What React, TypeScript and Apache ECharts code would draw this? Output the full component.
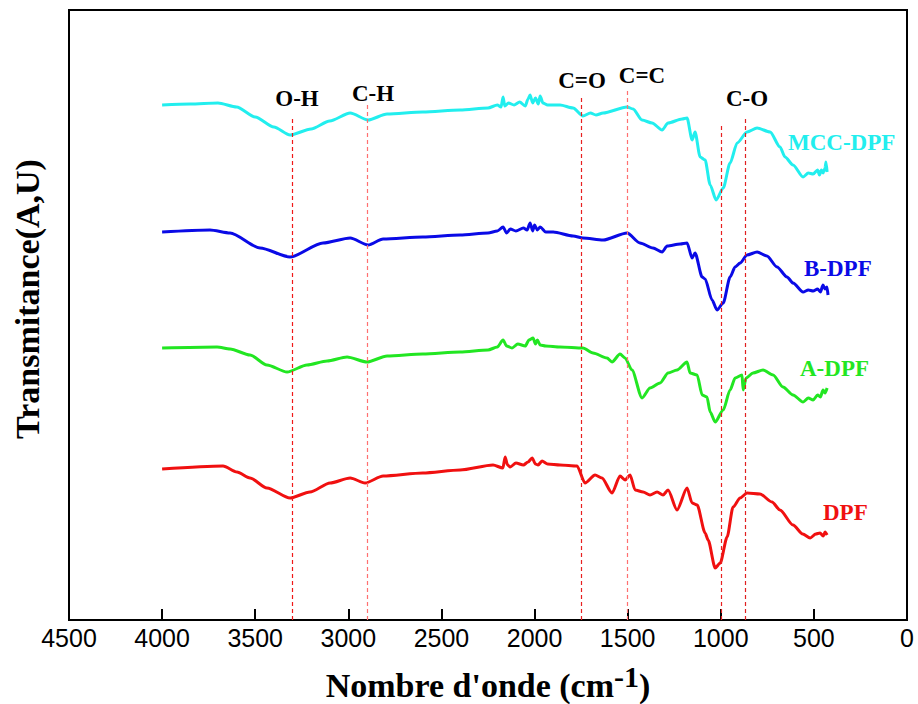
import React, { useEffect, useRef } from "react";
import * as echarts from "echarts";

// wavenumber (cm-1) → transmittance (arbitrary units, offset per sample)
const mccDpf: [number, number][] = [
  [4000, 515], [3850, 516], [3700, 517], [3600, 513], [3500, 503], [3400, 493], [3313, 485],
  [3200, 491], [3100, 499], [2990, 507], [2894, 500], [2792, 506], [2600, 508], [2400, 510],
  [2250, 512], [2200, 515], [2180, 513], [2169, 523], [2160, 514], [2140, 517], [2110, 515],
  [2080, 518], [2050, 514], [2035, 521], [2024, 525], [2010, 517], [1995, 522], [1980, 516],
  [1970, 524], [1955, 517], [1930, 515], [1863, 515], [1793, 512], [1740, 504], [1700, 507],
  [1670, 505], [1632, 507], [1503, 513], [1471, 511], [1423, 500], [1369, 497], [1315, 490],
  [1283, 497], [1208, 501], [1181, 502], [1154, 480], [1138, 488], [1111, 463], [1084, 460],
  [1057, 435], [1025, 420], [987, 432], [950, 457], [912, 477], [859, 488], [805, 492],
  [735, 488], [682, 473], [655, 463], [612, 455], [558, 443], [530, 447], [504, 446],
  [480, 450], [470, 445], [460, 450], [451, 447], [440, 452], [435, 458], [429, 448],
];

const bDpf: [number, number][] = [
  [4000, 388], [3743, 390], [3635, 387], [3474, 372], [3313, 363], [3136, 377], [2990, 382],
  [2894, 375], [2813, 381], [2600, 383], [2400, 385], [2250, 387], [2200, 389], [2169, 393],
  [2150, 387], [2130, 391], [2100, 389], [2060, 392], [2040, 390], [2024, 397], [2010, 389],
  [2000, 395], [1985, 390], [1970, 393], [1940, 388], [1900, 388], [1793, 384], [1740, 382],
  [1632, 380], [1503, 387], [1434, 377], [1364, 372], [1315, 368], [1288, 374], [1218, 376],
  [1181, 377], [1154, 362], [1138, 367], [1100, 343], [1084, 341], [1047, 320], [1020, 310],
  [987, 317], [950, 343], [923, 353], [896, 357], [859, 365], [805, 368], [752, 364],
  [698, 353], [644, 343], [612, 337], [558, 328], [530, 330], [504, 329], [480, 331],
  [465, 328], [451, 335], [440, 331], [430, 333], [424, 325],
];

const aDpf: [number, number][] = [
  [4000, 272], [3705, 273], [3635, 271], [3528, 265], [3437, 255], [3329, 248], [3222, 255],
  [3114, 259], [3007, 263], [2900, 258], [2792, 264], [2600, 266], [2400, 268], [2250, 270],
  [2200, 273], [2169, 280], [2150, 274], [2121, 272], [2090, 276], [2050, 274], [2030, 280],
  [2008, 282], [1995, 276], [1985, 280], [1970, 275], [1940, 274], [1863, 273], [1740, 272],
  [1686, 267], [1611, 262], [1584, 258], [1541, 266], [1514, 262], [1477, 250], [1423, 222],
  [1380, 232], [1326, 237], [1283, 247], [1235, 250], [1181, 258], [1165, 247], [1127, 245],
  [1100, 225], [1074, 223], [1057, 208], [1030, 198], [987, 210], [950, 230], [923, 242],
  [886, 245], [880, 230], [864, 242], [827, 247], [773, 250], [719, 245], [666, 233],
  [612, 225], [558, 218], [530, 222], [504, 220], [480, 225], [465, 223], [451, 230],
  [440, 227], [429, 232],
];

const dpf: [number, number][] = [
  [4000, 151], [3673, 154], [3598, 148], [3528, 142], [3437, 132], [3313, 122], [3206, 128],
  [3098, 137], [2990, 142], [2910, 137], [2813, 144], [2600, 147], [2400, 150], [2223, 155],
  [2170, 152], [2158, 163], [2145, 155], [2131, 153], [2100, 157], [2060, 155], [2035, 158],
  [2013, 162], [1995, 156], [1981, 155], [1960, 159], [1930, 156], [1863, 155], [1772, 154],
  [1729, 137], [1675, 145], [1638, 142], [1584, 127], [1541, 144], [1514, 140], [1487, 145],
  [1460, 130], [1417, 128], [1380, 125], [1342, 128], [1310, 125], [1283, 130], [1235, 110],
  [1181, 132], [1154, 117], [1127, 115], [1084, 87], [1068, 80], [1030, 52], [1003, 57],
  [966, 83], [934, 113], [896, 122], [859, 127], [789, 126], [725, 118], [682, 110],
  [612, 95], [560, 86], [520, 82], [490, 86], [467, 87], [450, 84], [440, 88], [429, 85],
];

const seriesNames = ["MCC-DPF", "B-DPF", "A-DPF", "DPF"];
const seriesData = [mccDpf, bDpf, aDpf, dpf];
const seriesColors = ["#22eeee", "#0a0ae6", "#22e622", "#f01010"];

// band markers: wavenumber, top of dashed line (a.u.)
const bandWave = [3300, 2900, 1750, 1500, 1000, 870];
const bandTop = [503, 518, 525, 530, 494, 501];
const bandColors = ["#f01818", "#ff7070", "#e82020", "#ff7070", "#e82020", "#e02020"];
const bandLabels = ["O-H", "C-H", "C=O", "C=C", "C-O"];

const xTicks = [0, 500, 1000, 1500, 2000, 2500, 3000, 3500, 4000, 4500];
const yTitle = "Transmitance(A,U)";

export default function App() {
  const ref = useRef<HTMLDivElement>(null);
  useEffect(() => {
    if (!ref.current) return;
    const chart = echarts.init(ref.current, undefined, { renderer: "svg" });
    const serif = "'Liberation Serif', 'Times New Roman', serif";
    const bandLabelPos = [
      [297, 98],
      [373, 93],
      [582, 80],
      [642, 75],
      [747, 98],
    ];
    const seriesLabelPos = [
      [788, 142],
      [804, 268],
      [800, 368],
      [823, 512],
    ];
    chart.setOption({
      animation: false,
      grid: {
        left: 69,
        right: 11,
        top: 10,
        bottom: 84,
        outerBoundsMode: "none",
        containLabel: false,
        show: true,
        borderColor: "#000",
        borderWidth: 2,
        backgroundColor: "transparent",
      },
      xAxis: {
        type: "value",
        inverse: true,
        min: xTicks[0],
        max: xTicks[xTicks.length - 1],
        interval: 500,
        axisLine: { show: true, onZero: false, lineStyle: { color: "#000", width: 2 } },
        axisTick: { show: true, inside: true, length: 11, lineStyle: { color: "#000", width: 2 } },
        axisLabel: {
          color: "#000",
          fontSize: 25,
          fontFamily: "'Liberation Sans', Arial, sans-serif",
          margin: 5,
          formatter: (v: number) => String(v),
        },
        splitLine: { show: false },
        name: "{main|Nombre d'onde (cm}{sup|-1}{main|)}",
        nameLocation: "middle",
        nameGap: 41,
        nameTextStyle: {
          color: "#000",
          fontSize: 34,
          fontWeight: "bold",
          fontFamily: serif,
          rich: {
            main: {
              fontSize: 34,
              fontWeight: "bold",
              fontFamily: serif,
              color: "#000",
              lineHeight: 48,
            },
            sup: {
              fontSize: 30,
              fontWeight: "bold",
              fontFamily: serif,
              color: "#000",
              lineHeight: 30,
              verticalAlign: "top",
            },
          },
        },
      },
      yAxis: {
        type: "value",
        min: 0,
        max: 610,
        axisLine: { show: true, lineStyle: { color: "#000", width: 2 } },
        axisTick: { show: false },
        axisLabel: { show: false },
        splitLine: { show: false },
      },
      series: [
        ...seriesData.map((d, i) => ({
          name: seriesNames[i],
          type: "line",
          data: d,
          showSymbol: false,
          symbol: "none",
          smooth: 0.25,
          smoothMonotone: "x",
          lineStyle: { color: seriesColors[i], width: 3 },
          z: 3,
        })),
        {
          name: "bands",
          type: "line",
          data: [],
          silent: true,
          z: 2,
          markLine: {
            symbol: ["none", "none"],
            silent: true,
            label: { show: false },
            data: bandWave.map((w, i) => [
              { coord: [w, 0], lineStyle: { color: bandColors[i], width: 1.2, type: [4, 3] } },
              { coord: [w, bandTop[i]] },
            ]),
          },
        },
      ],
      graphic: [
        {
          type: "text",
          x: 27,
          y: 299,
          rotation: Math.PI / 2,
          style: {
            text: yTitle,
            fill: "#000",
            font: `bold 34px ${serif}`,
            align: "center",
            verticalAlign: "middle",
          },
        },
        ...bandLabels.map((t, i) => ({
          type: "text",
          x: bandLabelPos[i][0],
          y: bandLabelPos[i][1],
          style: {
            text: t,
            fill: "#000",
            font: `bold 23px ${serif}`,
            align: "center",
            verticalAlign: "middle",
          },
        })),
        ...seriesNames.map((t, i) => ({
          type: "text",
          x: seriesLabelPos[i][0],
          y: seriesLabelPos[i][1],
          style: {
            text: t,
            fill: seriesColors[i],
            font: `bold 23px ${serif}`,
            align: "left",
            verticalAlign: "middle",
          },
        })),
      ],
    });
    return () => chart.dispose();
  }, []);
  return <div ref={ref} style={{ width: 918, height: 704, position: "absolute", left: 0, top: 0 }} />;
}
